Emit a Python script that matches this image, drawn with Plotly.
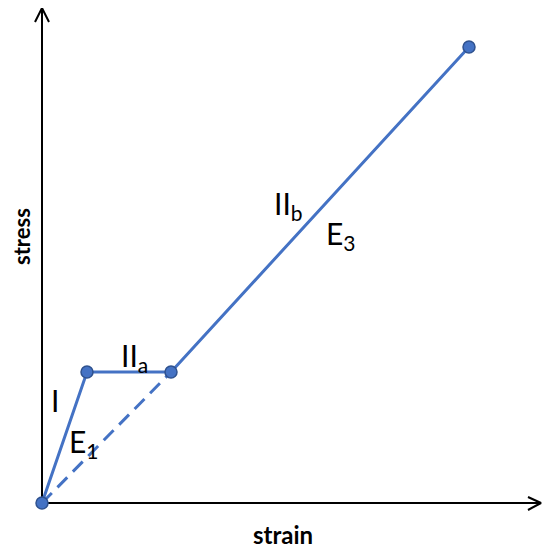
import plotly.graph_objects as go

# Data (arbitrary units; origin at 0,0)
strain = [0, 45, 129, 427]
stress = [0, 131, 131, 456]
dash_strain = [0, 129]
dash_stress = [0, 131]

# Region labels
label_text = ["I", "II<sub>a</sub>", "E<sub>1</sub>", "II<sub>b</sub>", "E<sub>3</sub>"]
label_x = [13, 92, 42, 246, 299]
label_y = [103, 146, 60, 298, 268]

blue = "#4472C4"
edge = "#2F528F"

fig = go.Figure()

# axes with arrows
fig.add_trace(go.Scatter(x=[0, 0], y=[0, 495], mode="lines",
                         line=dict(color="black", width=2), hoverinfo="skip"))
fig.add_trace(go.Scatter(x=[-7, 0, 7], y=[481, 495, 481], mode="lines",
                         line=dict(color="black", width=2), hoverinfo="skip"))
fig.add_trace(go.Scatter(x=[0, 499], y=[0, 0], mode="lines",
                         line=dict(color="black", width=2), hoverinfo="skip"))
fig.add_trace(go.Scatter(x=[486, 499, 486], y=[6, 0, -7], mode="lines",
                         line=dict(color="black", width=2), hoverinfo="skip"))

# dashed secant
fig.add_trace(go.Scatter(x=dash_strain, y=dash_stress, mode="lines",
                         line=dict(color=blue, width=3, dash="14px,8px"), hoverinfo="skip"))
# main curve
fig.add_trace(go.Scatter(x=strain, y=stress, mode="lines+markers",
                         line=dict(color=blue, width=3),
                         marker=dict(size=12, color=blue, line=dict(color=edge, width=1.5)),
                         hoverinfo="skip"))

for t, x, y in zip(label_text, label_x, label_y):
    fig.add_annotation(x=x, y=y, text=t, showarrow=False, xref="x", yref="y",
                       font=dict(family="Lato", size=30, color="black"), xanchor="center", yanchor="middle")

fig.add_annotation(x=241, y=-31, text="<b>strain</b>", showarrow=False, xref="x", yref="y",
                   font=dict(family="Lato", size=24, color="black"))
fig.add_annotation(x=-21, y=266, text="<b>stress</b>", showarrow=False, xref="x", yref="y",
                   textangle=-90, font=dict(family="Lato", size=22, color="black"))

fig.update_layout(
    width=542, height=544,
    margin=dict(l=0, r=0, t=0, b=0),
    plot_bgcolor="white", paper_bgcolor="white",
    showlegend=False,
    xaxis=dict(range=[-34, 508], visible=False, fixedrange=True),
    yaxis=dict(range=[-49, 495], visible=False, fixedrange=True),
)

fig.write_html("out.html")
